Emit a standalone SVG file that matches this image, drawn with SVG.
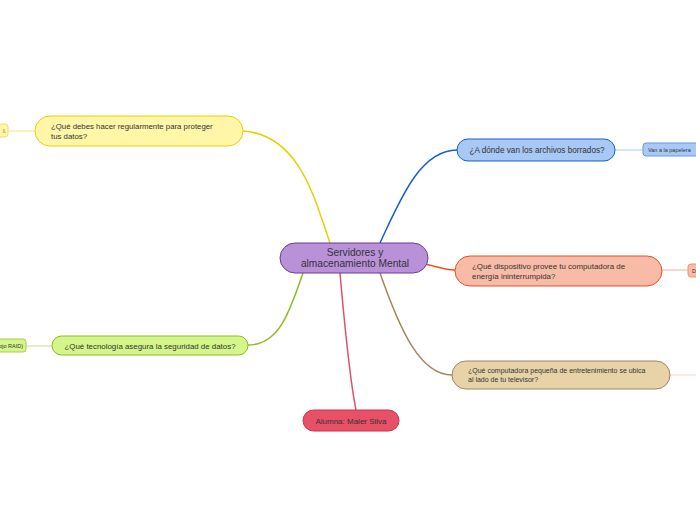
<svg xmlns="http://www.w3.org/2000/svg" width="696" height="520" viewBox="0 0 696 520">
<style>
text{font-family:"Liberation Sans",Arial,sans-serif;fill:#333}
.n{stroke-width:1}
.c{fill:none;stroke-width:1.5}
.s{fill:none;stroke-width:1}
</style>
<rect width="696" height="520" fill="#fff"/>
<g id="connectors">
<path class="c" stroke="#e8d000" d="M330,243 C315,200 300,135 243,131"/>
<path class="c" stroke="#1a5fc8" d="M380,243 C400,200 420,150 457,150"/>
<path class="c" stroke="#e85020" d="M425,264 C435,266 445,270 455,270"/>
<path class="c" stroke="#a08860" d="M380,273 C400,330 420,375 452,375"/>
<path class="c" stroke="#e05070" d="M340,273 C345,330 350,380 356,410"/>
<path class="c" stroke="#8dbb22" d="M303,273 C290,310 280,345 248,345"/>
<line class="s" stroke="#f3e88a" x1="8" y1="131" x2="35" y2="131"/>
<line class="s" stroke="#c3dc8a" x1="26" y1="346" x2="52" y2="346"/>
<line class="s" stroke="#a8c8f5" x1="615" y1="150" x2="643" y2="150"/>
<line class="s" stroke="#f5b0a0" x1="662" y1="270" x2="688" y2="270"/>
<line class="s" stroke="#e8dcc8" x1="670" y1="375" x2="696" y2="375"/>
</g>
<g id="central">
<rect class="n" x="280" y="243" width="148" height="30" rx="15" fill="#b991d9" stroke="#6a3d8f"/>
<text x="355" y="256" font-size="10.2" text-anchor="middle">Servidores  y</text>
<text x="355" y="267" font-size="10.2" text-anchor="middle">almacenamiento Mental</text>
</g>
<g id="yellow">
<rect class="n" x="35" y="116" width="208" height="30" rx="15" fill="#fff6a8" stroke="#e8d000"/>
<text x="51" y="129" font-size="7.8">¿Qué debes hacer regularmente para proteger</text>
<text x="51" y="139" font-size="7.8">tus datos?</text>
</g>
<g id="yellow-child">
<rect class="n" x="-20" y="124" width="28" height="13" rx="3" fill="#fff6a8" stroke="#f0e060"/>
<text x="6" y="133" font-size="5.5" text-anchor="end">l.</text>
</g>
<g id="green">
<rect class="n" x="52" y="336" width="196" height="19" rx="9.5" fill="#d4f58a" stroke="#8dbb22"/>
<text x="150" y="348.5" font-size="7.9" text-anchor="middle">¿Qué tecnología asegura la seguridad de datos?</text>
</g>
<g id="green-child">
<rect class="n" x="-20" y="339" width="46" height="13" rx="3" fill="#d4f58a" stroke="#a8cc50"/>
<text x="23" y="348" font-size="5.5" text-anchor="end">ojo RAID)</text>
</g>
<g id="blue">
<rect class="n" x="457" y="139" width="158" height="22" rx="11" fill="#a8c8f5" stroke="#1a5fc8"/>
<text x="537" y="153" font-size="8.2" text-anchor="middle">¿A dónde van los archivos borrados?</text>
</g>
<g id="blue-child">
<rect class="n" x="643" y="143" width="70" height="13" rx="3" fill="#a8c8f5" stroke="#6a98e0"/>
<text x="648" y="152" font-size="5.5">Van a la papelera</text>
</g>
<g id="orange">
<rect class="n" x="455" y="256" width="207" height="30" rx="15" fill="#f8bba8" stroke="#e85020"/>
<text x="472" y="269" font-size="7.9">¿Qué dispositivo provee tu computadora de</text>
<text x="472" y="279" font-size="7.9">energía ininterrumpida?</text>
</g>
<g id="orange-child">
<rect class="n" x="688" y="264" width="30" height="13" rx="3" fill="#f8bba8" stroke="#f09070"/>
<text x="692" y="273" font-size="5.5">D</text>
</g>
<g id="tan">
<rect class="n" x="452" y="361" width="218" height="28" rx="14" fill="#e8d3a8" stroke="#a08860"/>
<text x="468" y="373" font-size="7">¿Qué computadora pequeña de entretenimiento se ubica</text>
<text x="468" y="382" font-size="7">al lado de tu televisor?</text>
</g>
<g id="red">
<rect class="n" x="303" y="410" width="96" height="21" rx="10.5" fill="#e85068" stroke="#c83050"/>
<text x="351" y="423.5" font-size="8" text-anchor="middle">Alumna: Maler Silva</text>
</g>
</svg>
